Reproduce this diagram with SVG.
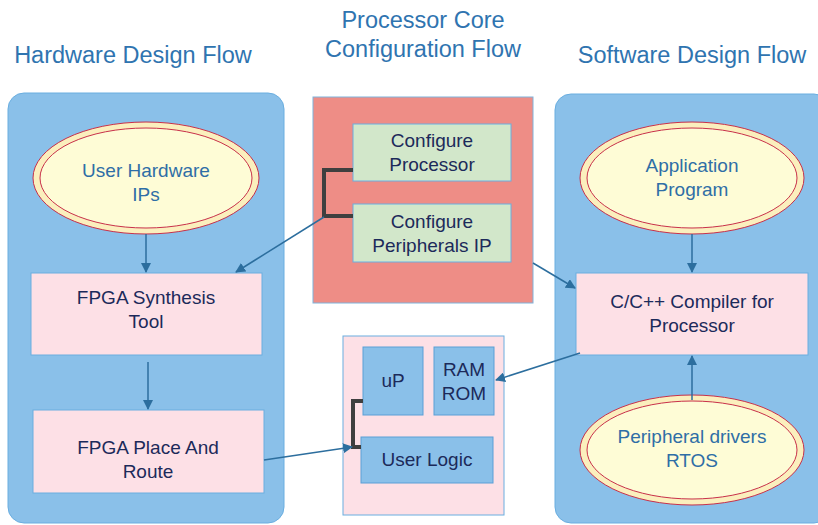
<svg xmlns="http://www.w3.org/2000/svg" width="818" height="525" viewBox="0 0 818 525">
<defs>
<marker id="arr" viewBox="0 0 10 10" refX="9" refY="5" markerWidth="10" markerHeight="10" markerUnits="userSpaceOnUse" orient="auto"><path d="M0,0 L10,5 L0,10 Z" fill="#2c6e9e"/></marker>
<style>
.title{font-family:"Liberation Sans",Arial,sans-serif;font-size:23.5px;fill:#2f74b0;text-anchor:middle}
.panel{fill:#8ac0e9;stroke:#6aaee0;stroke-width:1}
.box{fill:#fde0e6;stroke:#6aaee0;stroke-width:1}
.gbox{fill:#d2e7ca;stroke:#6aaee0;stroke-width:1}
.bbox{fill:#8ac0e9;stroke:#5a9fd6;stroke-width:1}
.eo{fill:#fbefbd;stroke:#c8304a;stroke-width:1}
.ei{fill:#fefcd6;stroke:#c8304a;stroke-width:1}
.t{font-family:"Liberation Sans",Arial,sans-serif;font-size:19px;fill:#1c2a5a;text-anchor:middle}
.te{font-family:"Liberation Sans",Arial,sans-serif;font-size:19px;fill:#2f6ea6;text-anchor:middle}
.c{fill:none;stroke:#2c6e9e;stroke-width:1.5}
.br{fill:none;stroke:#3f3f3f;stroke-width:4}
</style>
</defs>
<rect width="818" height="525" fill="#ffffff"/>
<g id="titles">
<text class="title" x="133" y="63">Hardware Design Flow</text>
<text class="title" x="423" y="28">Processor Core</text>
<text class="title" x="423" y="57">Configuration Flow</text>
<text class="title" x="692" y="63">Software Design Flow</text>
</g>
<g id="hw-panel"><rect class="panel" x="8" y="93" width="276" height="430" rx="16"/></g>
<g id="sw-panel"><rect class="panel" x="555" y="94" width="275" height="429" rx="16"/></g>
<g id="proc-panel"><rect x="313" y="97" width="220" height="206" fill="#ee8d86" stroke="#7fb3dc" stroke-width="1"/></g>
<g id="sys-panel"><rect x="343" y="336" width="161" height="179" fill="#fde0e6" stroke="#6aaee0" stroke-width="1"/></g>
<g id="user-hw-ips">
<ellipse class="eo" cx="146" cy="178" rx="113" ry="56"/>
<ellipse class="ei" cx="146" cy="178" rx="106" ry="50"/>
<text class="te" x="146" y="177">User Hardware</text>
<text class="te" x="146" y="201">IPs</text>
</g>
<g id="fpga-synth">
<rect class="box" x="31" y="273" width="231" height="82"/>
<text class="t" x="146" y="304">FPGA Synthesis</text>
<text class="t" x="146" y="328">Tool</text>
</g>
<g id="fpga-par">
<rect class="box" x="33" y="410" width="231" height="83"/>
<text class="t" x="148" y="454">FPGA Place And</text>
<text class="t" x="148" y="478">Route</text>
</g>
<g id="cfg-proc">
<rect class="gbox" x="353" y="124" width="158" height="57"/>
<text class="t" x="432" y="147">Configure</text>
<text class="t" x="432" y="171">Processor</text>
</g>
<g id="cfg-periph">
<rect class="gbox" x="353" y="204" width="158" height="58"/>
<text class="t" x="432" y="228">Configure</text>
<text class="t" x="432" y="252">Peripherals IP</text>
</g>
<g id="up">
<rect class="bbox" x="363" y="347" width="60" height="68"/>
<text class="t" x="393" y="387">uP</text>
</g>
<g id="ramrom">
<rect class="bbox" x="434" y="347" width="60" height="68"/>
<text class="t" x="464" y="376">RAM</text>
<text class="t" x="464" y="400">ROM</text>
</g>
<g id="user-logic">
<rect class="bbox" x="361" y="437" width="132" height="46"/>
<text class="t" x="427" y="466">User Logic</text>
</g>
<g id="app-prog">
<ellipse class="eo" cx="692" cy="178" rx="112" ry="56"/>
<ellipse class="ei" cx="692" cy="178" rx="105" ry="50"/>
<text class="te" x="692" y="172">Application</text>
<text class="te" x="692" y="196">Program</text>
</g>
<g id="compiler">
<rect class="box" x="576" y="273" width="232" height="82"/>
<text class="t" x="692" y="308">C/C++ Compiler for</text>
<text class="t" x="692" y="332">Processor</text>
</g>
<g id="periph-drivers">
<ellipse class="eo" cx="692" cy="450" rx="112" ry="55"/>
<ellipse class="ei" cx="692" cy="450" rx="105" ry="49"/>
<text class="te" x="692" y="443">Peripheral drivers</text>
<text class="te" x="692" y="467">RTOS</text>
</g>
<g id="connectors">
<path class="br" d="M353,170 H324 V216 H353"/>
<path class="br" d="M363,401 H353 V447 H361"/>
<line class="c" x1="146" y1="234" x2="146" y2="272" marker-end="url(#arr)"/>
<line class="c" x1="148" y1="362" x2="148" y2="409" marker-end="url(#arr)"/>
<line class="c" x1="324" y1="217" x2="236" y2="272" marker-end="url(#arr)"/>
<line class="c" x1="533" y1="263" x2="575" y2="288" marker-end="url(#arr)"/>
<line class="c" x1="580" y1="353" x2="496" y2="380" marker-end="url(#arr)"/>
<line class="c" x1="264" y1="460" x2="352" y2="447" marker-end="url(#arr)"/>
<line class="c" x1="692" y1="234" x2="692" y2="272" marker-end="url(#arr)"/>
<line class="c" x1="692" y1="400" x2="692" y2="356" marker-end="url(#arr)"/>
</g>
</svg>
